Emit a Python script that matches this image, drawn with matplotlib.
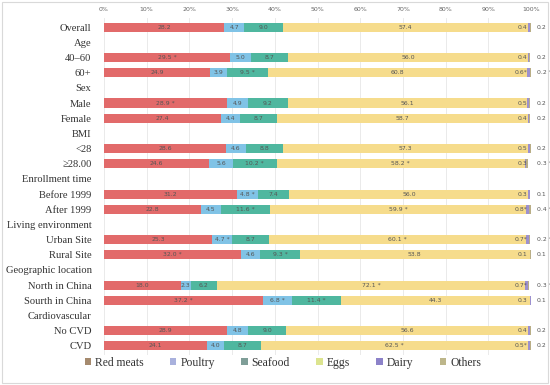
import numpy as np
import matplotlib
matplotlib.use("Agg")
import matplotlib.pyplot as plt
from matplotlib.patches import Patch, Rectangle

# ---------------- data ----------------
rows = ["Overall", "Age", "40\u201360", "60+", "Sex", "Male", "Female", "BMI", "<28",
        "\u226528.00", "Enrollment time", "Before 1999", "After 1999", "Living environment",
        "Urban Site", "Rural Site", "Geographic location", "North in China",
        "Sourth in China", "Cardiovascular", "No CVD", "CVD"]
nan = np.nan
red_meats = [28.2, nan, 29.5, 24.9, nan, 28.9, 27.4, nan, 28.6, 24.6, nan, 31.2, 22.8, nan, 25.3, 32.0, nan, 18.0, 37.2, nan, 28.9, 24.1]
poultry   = [4.7, nan, 5.0, 3.9, nan, 4.9, 4.4, nan, 4.6, 5.6, nan, 4.8, 4.5, nan, 4.7, 4.6, nan, 2.3, 6.8, nan, 4.8, 4.0]
seafood   = [9.0, nan, 8.7, 9.5, nan, 9.2, 8.7, nan, 8.8, 10.2, nan, 7.4, 11.6, nan, 8.7, 9.3, nan, 6.2, 11.4, nan, 9.0, 8.7]
eggs      = [57.4, nan, 56.0, 60.8, nan, 56.1, 58.7, nan, 57.3, 58.2, nan, 56.0, 59.9, nan, 60.1, 53.8, nan, 72.1, 44.3, nan, 56.6, 62.5]
dairy     = [0.4, nan, 0.4, 0.6, nan, 0.5, 0.4, nan, 0.5, 0.3, nan, 0.3, 0.8, nan, 0.7, 0.1, nan, 0.7, 0.3, nan, 0.4, 0.5]
others    = [0.2, nan, 0.2, 0.2, nan, 0.2, 0.2, nan, 0.2, 0.3, nan, 0.1, 0.4, nan, 0.2, 0.1, nan, 0.3, 0.1, nan, 0.2, 0.2]
# significance marks (1 = starred)
red_star   = [0, 0, 1, 0, 0, 1, 0, 0, 0, 0, 0, 0, 0, 0, 0, 1, 0, 0, 1, 0, 0, 0]
poul_star  = [0, 0, 0, 0, 0, 0, 0, 0, 0, 0, 0, 1, 0, 0, 1, 0, 0, 0, 1, 0, 0, 0]
sea_star   = [0, 0, 0, 1, 0, 0, 0, 0, 0, 1, 0, 0, 1, 0, 0, 1, 0, 0, 1, 0, 0, 0]
egg_star   = [0, 0, 0, 0, 0, 0, 0, 0, 0, 1, 0, 0, 1, 0, 1, 0, 0, 1, 0, 0, 0, 1]
dairy_star = [0, 0, 0, 1, 0, 0, 0, 0, 0, 0, 0, 0, 1, 0, 1, 0, 0, 1, 0, 0, 0, 1]
oth_star   = [0, 0, 0, 1, 0, 0, 0, 0, 0, 1, 0, 0, 1, 0, 1, 0, 0, 1, 0, 0, 0, 0]
series_names = ["Red meats", "Poultry", "Seafood", "Eggs", "Dairy", "Others"]
x_ticks = [0, 10, 20, 30, 40, 50, 60, 70, 80, 90, 100]

# ---------------- style ----------------
bar_colors = ["#E26A6A", "#80C3E6", "#4FB79F", "#F6DC8C", "#9C90CF", "#B9AE86"]
legend_colors = ["#A58A6E", "#A9B1DD", "#7F9E98", "#DCE48F", "#8C82C9", "#BDB68A"]
label_color = "#555555"

plt.rcParams['font.family'] = ['DejaVu Sans']
fig = plt.figure(figsize=(5.5, 3.85), dpi=100)
fig.patches.append(Rectangle((0.004, 0.004), 0.992, 0.992, transform=fig.transFigure,
                             fill=False, edgecolor="#d9d9d9", linewidth=0.8))
ax = fig.add_axes([104/550, 1-355/385, (531-104)/550, (355-18)/385])

y = np.arange(len(rows))
data = [np.array(s, dtype=float) for s in [red_meats, poultry, seafood, eggs, dairy, others]]
stars = [red_star, poul_star, sea_star, egg_star, dairy_star, oth_star]
left = np.zeros(len(rows))
bh = 0.6
for i, vals in enumerate(data):
    v = np.nan_to_num(vals)
    ax.barh(y, v, left=left, height=bh, color=bar_colors[i], zorder=2, linewidth=0)
    for j in range(len(rows)):
        if np.isnan(vals[j]):
            continue
        txt = f"{vals[j]:.1f}" + (" *" if stars[i][j] else "")
        if i <= 3:
            ax.text(left[j] + v[j] / 2, y[j], txt, ha="center", va="center",
                    fontsize=4.4, color=label_color, zorder=3)
        elif i == 4:
            ax.text(99.2, y[j], txt.replace(" ", ""), ha="right", va="center",
                    fontsize=4.4, color=label_color, zorder=3)
        else:
            ax.text(101.3, y[j], txt, ha="left", va="center",
                    fontsize=4.4, color=label_color, zorder=3, clip_on=False)
    left = left + v

ax.set_xlim(0, 100)
ax.set_ylim(21.6, -0.6)
ax.set_yticks(y)
ax.set_yticklabels(rows, fontfamily="Liberation Serif", fontsize=7.6, color="#333333")
ax.set_xticks(x_ticks)
ax.set_xticklabels([f"{t}%" for t in x_ticks], fontsize=4.5, color="#666666")
ax.xaxis.tick_top()
ax.tick_params(axis="both", length=0)
ax.tick_params(axis="y", pad=9)
ax.tick_params(axis="x", pad=4)
for s in ax.spines.values():
    s.set_visible(False)
ax.grid(axis="x", color="#e6e6e6", linewidth=0.6, zorder=0)
ax.set_axisbelow(True)

handles = [Patch(facecolor=c, edgecolor="none", label=n) for c, n in zip(legend_colors, series_names)]
fig.legend(handles=handles, loc="center", bbox_to_anchor=(0.514, 1-363/385), ncol=6,
           frameon=False, prop={"family": "Liberation Serif", "size": 8.4},
           handlelength=0.55, handleheight=0.55, handletextpad=0.35, columnspacing=2.25,
           labelcolor="#333333")

fig.savefig("out.png", dpi=100)
